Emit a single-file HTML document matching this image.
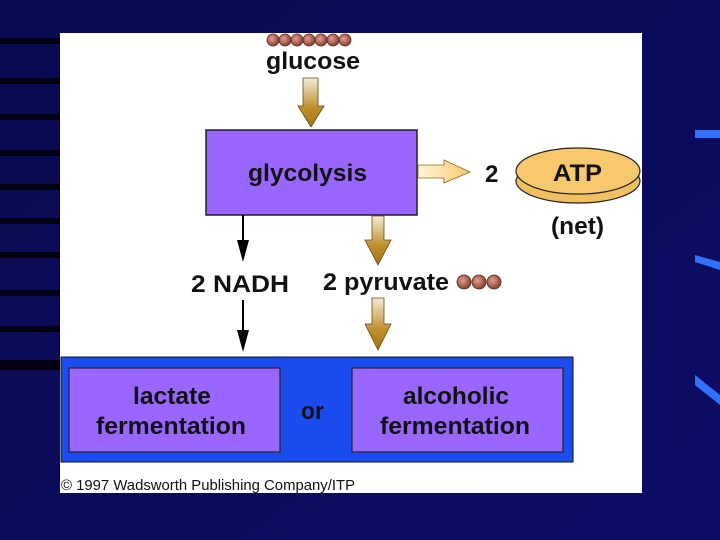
<!DOCTYPE html>
<html><head><style>
body{margin:0;width:720px;height:540px;overflow:hidden;background:#0b0b5c}
svg{display:block}
text{font-family:"Liberation Sans",Arial,sans-serif;font-weight:bold}
</style></head><body>
<svg width="720" height="540" viewBox="0 0 720 540">
<defs>
<linearGradient id="bg" x1="0" y1="0" x2="1" y2="1">
<stop offset="0" stop-color="#0a0a50"/><stop offset="1" stop-color="#0c0c66"/></linearGradient>
<linearGradient id="ga" x1="0" y1="0" x2="0" y2="1">
<stop offset="0" stop-color="#f4ecd8"/><stop offset="0.6" stop-color="#c09030"/><stop offset="1" stop-color="#a87010"/></linearGradient>
<linearGradient id="gh" x1="0" y1="0" x2="1" y2="0">
<stop offset="0" stop-color="#fff6d8"/><stop offset="1" stop-color="#f8c870"/></linearGradient>
<radialGradient id="bead" cx="0.4" cy="0.4" r="0.6">
<stop offset="0" stop-color="#e0a090"/><stop offset="1" stop-color="#8a4030"/></radialGradient>
</defs>
<rect width="720" height="540" fill="url(#bg)"/>
<g fill="#000010">
<rect x="0" y="38" width="60" height="6"/><rect x="0" y="78" width="60" height="6"/>
<rect x="0" y="114" width="60" height="6"/><rect x="0" y="150" width="60" height="6"/>
<rect x="0" y="184" width="60" height="6"/><rect x="0" y="218" width="60" height="6"/>
<rect x="0" y="252" width="60" height="6"/><rect x="0" y="290" width="60" height="6"/>
<rect x="0" y="326" width="60" height="6"/><rect x="0" y="360" width="60" height="10"/>
</g>
<rect x="695" y="130" width="25" height="8" fill="#3070ff"/>
<polygon points="695,255 720,262 720,270 695,262" fill="#3070ff"/>
<polygon points="695,375 720,395 720,405 695,385" fill="#3070ff"/>
<rect x="60" y="33" width="582" height="460" fill="#fff"/>
<g fill="url(#bead)" stroke="#5a2a20" stroke-width="0.8">
<circle cx="273" cy="40" r="6"/><circle cx="285" cy="40" r="6"/><circle cx="297" cy="40" r="6"/>
<circle cx="309" cy="40" r="6"/><circle cx="321" cy="40" r="6"/><circle cx="333" cy="40" r="6"/><circle cx="345" cy="40" r="6"/>
</g>
<text x="266" y="69" font-size="24" textLength="94" lengthAdjust="spacingAndGlyphs" fill="#111">glucose</text>
<polygon points="303,78 318,78 318,106 324,106 311,127 298,106 303,106" fill="url(#ga)" stroke="#6a4a10" stroke-width="0.8"/>
<rect x="206" y="130" width="211" height="85" fill="#9966ff" stroke="#222" stroke-width="1.5"/>
<text x="248" y="181" font-size="24" textLength="119" lengthAdjust="spacingAndGlyphs" fill="#111">glycolysis</text>
<polygon points="418,165 444,165 444,160 470,172 444,183 444,178 418,178" fill="url(#gh)" stroke="#8a6a20" stroke-width="0.8"/>
<text x="485" y="182" font-size="24" fill="#111">2</text>
<ellipse cx="578" cy="181" rx="62" ry="22" fill="#f2c060" stroke="#222" stroke-width="1.2"/>
<ellipse cx="578" cy="171" rx="62" ry="23" fill="#f8c86e" stroke="#222" stroke-width="1.2"/>
<text x="553" y="181" font-size="24" textLength="49" lengthAdjust="spacingAndGlyphs" fill="#111">ATP</text>
<text x="551" y="234" font-size="24" textLength="53" lengthAdjust="spacingAndGlyphs" fill="#111">(net)</text>
<line x1="243" y1="215" x2="243" y2="245" stroke="#000" stroke-width="2"/>
<polygon points="237,240 249,240 243,262" fill="#000"/>
<line x1="243" y1="300" x2="243" y2="335" stroke="#000" stroke-width="2"/>
<polygon points="237,330 249,330 243,352" fill="#000"/>
<polygon points="372,216 384,216 384,240 391,240 378,265 365,240 372,240" fill="url(#ga)" stroke="#6a4a10" stroke-width="0.8"/>
<polygon points="372,298 384,298 384,324 391,324 378,350 365,324 372,324" fill="url(#ga)" stroke="#6a4a10" stroke-width="0.8"/>
<text x="191" y="292" font-size="24" textLength="98" lengthAdjust="spacingAndGlyphs" fill="#111">2 NADH</text>
<text x="323" y="290" font-size="24" textLength="126" lengthAdjust="spacingAndGlyphs" fill="#111">2 pyruvate</text>
<g fill="url(#bead)" stroke="#5a2a20" stroke-width="0.8">
<circle cx="464" cy="282" r="7"/><circle cx="479" cy="282" r="7"/><circle cx="494" cy="282" r="7"/>
</g>
<rect x="61" y="357" width="512" height="105" fill="#1a4cf0" stroke="#111" stroke-width="1"/>
<rect x="69" y="368" width="211" height="84" fill="#9966ff" stroke="#222" stroke-width="1.2"/>
<rect x="352" y="368" width="211" height="84" fill="#9966ff" stroke="#222" stroke-width="1.2"/>
<text x="133" y="404" font-size="24" textLength="78" lengthAdjust="spacingAndGlyphs" fill="#111">lactate</text>
<text x="96" y="434" font-size="24" textLength="150" lengthAdjust="spacingAndGlyphs" fill="#111">fermentation</text>
<text x="301" y="419" font-size="24" textLength="23" lengthAdjust="spacingAndGlyphs" fill="#111">or</text>
<text x="403" y="404" font-size="24" textLength="106" lengthAdjust="spacingAndGlyphs" fill="#111">alcoholic</text>
<text x="380" y="434" font-size="24" textLength="150" lengthAdjust="spacingAndGlyphs" fill="#111">fermentation</text>
<text x="61" y="490" font-size="15" style="font-weight:normal" textLength="294" lengthAdjust="spacingAndGlyphs" fill="#111">© 1997 Wadsworth Publishing Company/ITP</text>
</svg>
</body></html>
